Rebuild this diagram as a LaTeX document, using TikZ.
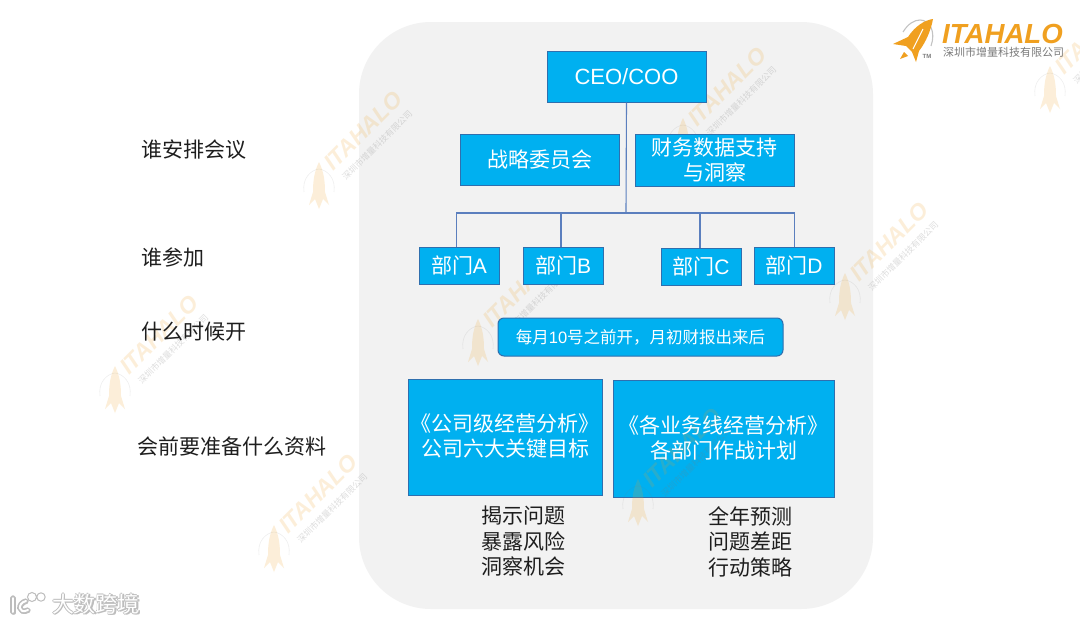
\documentclass[tikz,border=0pt]{standalone}
\usepackage{fontspec}
\setmainfont{Liberation Sans}
\newfontfamily\cjk{Noto Sans CJK SC}
\definecolor{panelgray}{HTML}{F2F2F2}
\definecolor{boxblue}{HTML}{00B0F0}
\definecolor{boxedge}{HTML}{2F6FAE}
\definecolor{linkblue}{HTML}{5B7FBE}
\definecolor{inkdark}{HTML}{1E1E1E}
\definecolor{logoorange}{HTML}{F0A020}
\definecolor{logogray}{HTML}{7A7A7A}
\definecolor{haloshade}{HTML}{BDBDBD}
\tikzset{
  px/.style={x=1pt,y=-1pt},
  bluebox/.style={draw=boxedge,line width=1pt,fill=boxblue,text=white,inner sep=0pt,align=center,font=\fontsize{21}{25}\selectfont\cjk},
  link/.style={draw=linkblue,line width=1.1pt},
  sidelabel/.style={text=inkdark,inner sep=0pt,anchor=west,font=\fontsize{21}{25}\selectfont\cjk},
  notes/.style={text=inkdark,inner sep=0pt,align=center,font=\fontsize{21}{25.5}\selectfont\cjk},
  marktext/.style={inner sep=0pt,font=\fontsize{22}{22}\selectfont\cjk},
}
\newcommand{\rocket}{%
  (0,-24) .. controls (5,-14) and (6,-4) .. (6,6) -- (10,19) -- (4,13) -- (0,23) -- (-4,13) -- (-10,19) -- (-6,6) .. controls (-6,-4) and (-5,-14) .. (0,-24) -- cycle}
\newcommand{\wmark}[2]{%
  \begin{scope}[shift={(#1,#2)},x=1pt,y=-1pt]
    \draw[logogray,opacity=.12,line width=.6pt] (-15,6) .. controls (-17,-8) and (-8,-16) .. (0,-17) .. controls (8,-16) and (17,-8) .. (15,6);
    \fill[logoorange,opacity=.17] \rocket;
    \node[rotate=45,anchor=base west,inner sep=0pt,text=logoorange,text opacity=.17,font=\fontsize{23}{23}\selectfont\bfseries\itshape] at (14,-14) {ITAHALO};
    \node[rotate=45,anchor=base west,inner sep=0pt,text=logogray,text opacity=.25,font=\fontsize{8.6}{9}\selectfont\cjk] at (27,-5) {深圳市增量科技有限公司};
  \end{scope}}
\begin{document}
\begin{tikzpicture}[px]
\useasboundingbox (0,0) rectangle (1080,624);
\fill[white] (0,0) rectangle (1080,624);
\fill[panelgray,rounded corners=72pt] (359,22) rectangle (873,609);

% watermarks under the boxes
\wmark{319}{186}
\wmark{115}{390}
\wmark{274}{549}
\wmark{845}{297}
\wmark{683}{142}
\wmark{478}{343}
\wmark{1050}{90}

% boxes
\node[bluebox,minimum width=159pt,minimum height=51pt] (ceo) at (626.5,76.5) {\fontsize{22}{25}\selectfont\rmfamily CEO/COO};
\node[bluebox,minimum width=159pt,minimum height=51pt] (strategy) at (539.5,159.5) {战略委员会};
\node[bluebox,minimum width=159pt,minimum height=52pt] (finance) at (714.5,160) {财务数据支持\\与洞察};
\node[bluebox,minimum width=80pt,minimum height=37pt] (depta) at (459,265.5) {部门{\rmfamily A}};
\node[bluebox,minimum width=80pt,minimum height=37pt] (deptb) at (563,265.5) {部门{\rmfamily B}};
\node[bluebox,minimum width=80pt,minimum height=37pt] (deptc) at (701,266.5) {部门{\rmfamily C}};
\node[bluebox,minimum width=80pt,minimum height=37pt] (deptd) at (794,265.5) {部门{\rmfamily D}};
\node[bluebox,rounded corners=6pt,minimum width=285pt,minimum height=38pt,font=\fontsize{16.5}{20}\selectfont\cjk] (when) at (640.5,337) {每月{\rmfamily 10}号之前开，月初财报出来后};
\node[bluebox,minimum width=194pt,minimum height=116pt] (company) at (505,437) {};
\node[bluebox,minimum width=221pt,minimum height=117pt] (lines) at (723.5,438.5) {};

% watermark lying over the right-hand box
\wmark{638}{503}

\node[inner sep=0pt,align=center,text=white,font=\fontsize{21}{25}\selectfont\cjk] (companytxt) at (505,436) {《公司级经营分析》\\公司六大关键目标};
\node[inner sep=0pt,align=center,text=white,font=\fontsize{21}{25}\selectfont\cjk] (linestxt) at (723.5,437.5) {《各业务线经营分析》\\各部门作战计划};

% connectors
\coordinate (bus) at (626,213);
\draw[link] (ceo.south) -- (bus);
\draw[link] ([xshift=-2.5pt]depta.north) |- (bus);
\draw[link] ([xshift=-2pt]deptb.north) -- ([xshift=-2pt]deptb.north |- bus);
\draw[link] ([xshift=-1pt]deptc.north) -- ([xshift=-1pt]deptc.north |- bus);
\draw[link] ([xshift=.5pt]deptd.north) |- (bus);

% side labels
\node[sidelabel] (who) at (141,150) {谁安排会议};
\node[sidelabel] (attend) at (141,257) {谁参加};
\node[sidelabel] (time) at (141,332) {什么时候开};
\node[sidelabel] (prep) at (137,446) {会前要准备什么资料};

% notes
\node[notes] (notea) at (523.5,541.5) {揭示问题\\暴露风险\\洞察机会};
\node[notes] (noteb) at (750.5,541.5) {全年预测\\问题差距\\行动策略};

% logo
\draw[logogray!45,line width=1.1pt] (903,32) .. controls (908,24) and (914,20) .. (920,20) .. controls (930,20) and (936,32) .. (931,46);
\fill[logoorange] (933,19) .. controls (925,20) and (915,26) .. (908,37) -- (893,44) -- (906,46) -- (912,52) -- (916,62) -- (919,51) .. controls (926,42) and (931,30) .. (933,19) -- cycle;
\fill[logoorange] (900,59) -- (904,52) -- (908,56) -- cycle;
\draw[white,line width=1pt] (923,29) -- (913,49);
\node[inner sep=0pt,anchor=west,text=logoorange,font=\fontsize{27.6}{28}\selectfont\bfseries\itshape] (brand) at (942,33.5) {ITAHALO};
\node[inner sep=0pt,anchor=west,text=logogray,font=\fontsize{11}{12}\selectfont\cjk] (brandsub) at (943,52.5) {深圳市增量科技有限公司};
\node[inner sep=0pt,text=logogray,font=\fontsize{6}{6}\selectfont\bfseries] (tm) at (927,56) {TM};

% corner mark
\foreach \dx/\dy in {-1/0,1/0,0/-1,0/1,1/1}{
  \node[marktext,text=haloshade] at (96+\dx,604+\dy) {大数跨境};
  \draw[haloshade,line width=3.4pt,line cap=round] (13+\dx,598+\dy) -- (13+\dx,612+\dy);
  \draw[haloshade,line width=3.4pt,line cap=round] (26+\dx,601+\dy) .. controls (17+\dx,603+\dy) and (18+\dx,615+\dy) .. (28+\dx,610+\dy);
}
\node[marktext,text=white] (mark) at (96,604) {大数跨境};
\draw[white,line width=2pt,line cap=round] (13,598) -- (13,612);
\draw[white,line width=2pt,line cap=round] (26,601) .. controls (17,603) and (18,615) .. (28,610);
\draw[haloshade,line width=1pt,fill=white] (32,597) circle (4.5pt) (41,597) circle (4.2pt);
\end{tikzpicture}
\end{document}
